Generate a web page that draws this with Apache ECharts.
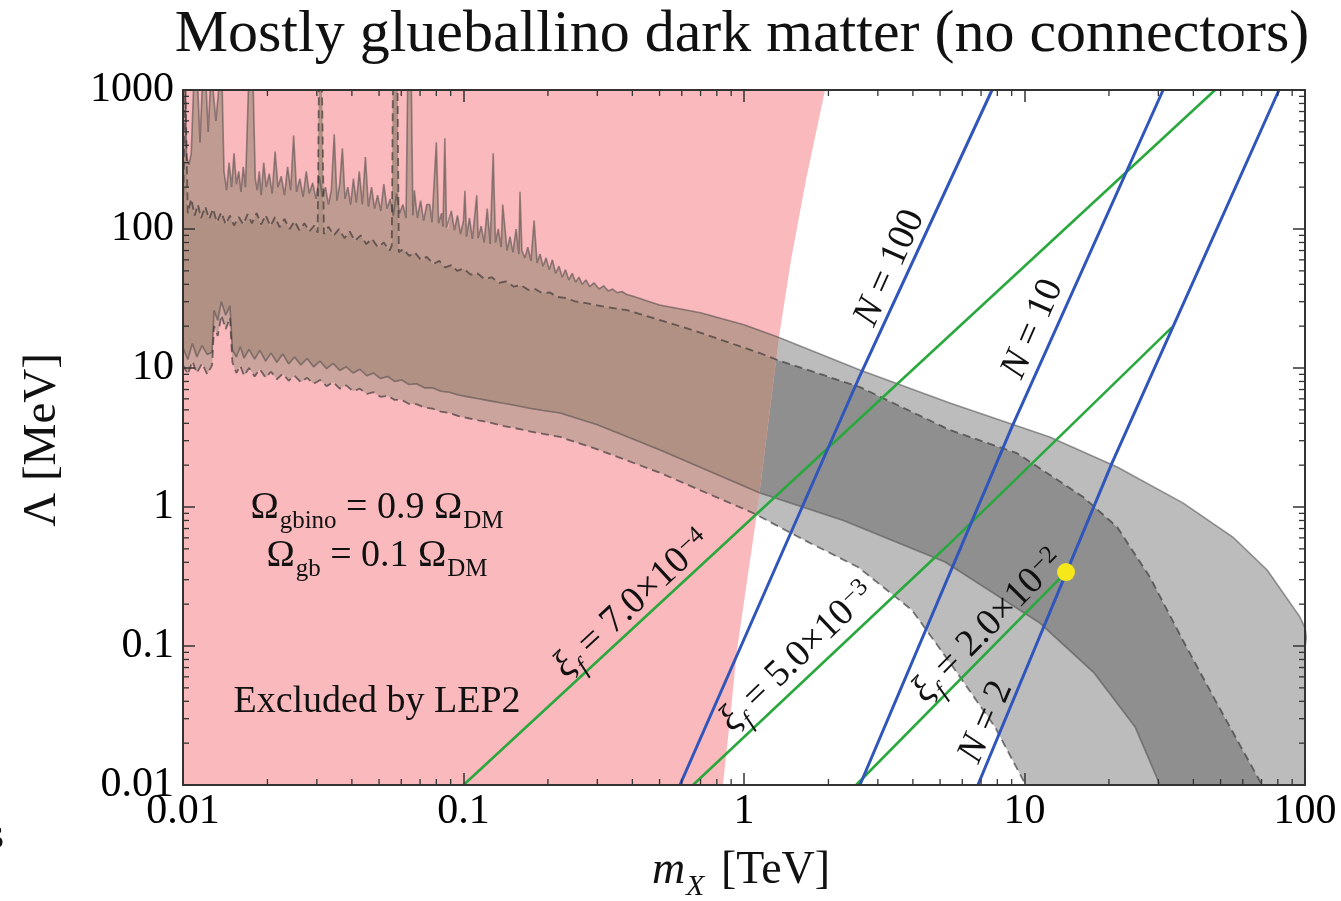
<!DOCTYPE html>
<html>
<head>
<meta charset="utf-8">
<script src="https://cdn.jsdelivr.net/npm/echarts@6/dist/echarts.min.js"></script>
<style>
  html, body { margin: 0; padding: 0; background: #fff; }
  #chart { width: 1341px; height: 901px; }
</style>
</head>
<body>
<div id="chart"></div>
<script>
const SERIF = '"Liberation Serif", "DejaVu Serif", serif';

// Axis ticks (log scales)
const X_TICK_LABELS = ['0.01', '0.1', '1', '10', '100'];
const Y_TICK_LABELS = ['0.01', '0.1', '1', '10', '100', '1000'];

// Edge of the LEP2-excluded region, [m_X (TeV), Λ (MeV)], bottom to top
const LEP2_EDGE = [[0.841, 0.01], [0.891, 0.0294], [0.944, 0.0935], [1.112, 0.906], [1.218, 3.89],
  [1.333, 16.7], [1.471, 59.8], [1.663, 225], [1.945, 1000]];

// Relic-abundance band boundaries, [m_X (TeV), Λ (MeV)]
const BAND_UPPER_SOLID = [
  [0.0100, 1000], [0.0102, 1000], [0.0103, 330], [0.0105, 290], [0.0107, 350], [0.0109, 1000], [0.0113, 1000],
  [0.0115, 420], [0.0117, 1000], [0.0121, 1000], [0.0123, 500], [0.0125, 1000], [0.0128, 1000], [0.0131, 600],
  [0.0134, 1000], [0.0138, 1000], [0.0140, 260], [0.0143, 190], [0.0146, 300], [0.0149, 200], [0.0152, 350],
  [0.0155, 210], [0.0158, 260], [0.0161, 185], [0.0164, 280], [0.0167, 200], [0.0171, 1000], [0.0178, 1000],
  [0.0181, 230], [0.0184, 190], [0.0187, 260], [0.0190, 175], [0.0194, 300], [0.0198, 200],
  [0.0203, 250], [0.0208, 180], [0.0213, 360], [0.0218, 200], [0.0224, 240], [0.0230, 175], [0.0236, 280],
  [0.0242, 190], [0.0248, 470], [0.0254, 185], [0.0261, 230], [0.0268, 170], [0.0275, 260], [0.0282, 180],
  [0.0290, 215], [0.0298, 165], [0.0306, 240], [0.0314, 170], [0.0322, 200], [0.0330, 150], [0.0338, 190],
  [0.0346, 480], [0.0354, 160], [0.0362, 210], [0.0370, 380], [0.0378, 165], [0.0387, 200], [0.0396, 150],
  [0.0405, 230], [0.0415, 155], [0.0425, 260], [0.0436, 150], [0.0447, 330], [0.0458, 145], [0.0470, 200],
  [0.0482, 140], [0.0494, 175], [0.0507, 135], [0.0520, 210], [0.0534, 140], [0.0548, 165], [0.0562, 125],
  [0.0577, 180], [0.0592, 130], [0.0608, 150], [0.0624, 120], [0.0632, 1000], [0.0652, 1000], [0.0660, 125],
  [0.0668, 190], [0.0685, 120], [0.0703, 160], [0.0721, 115], [0.0740, 150], [0.0758, 150], [0.0772, 112],
  [0.0800, 420], [0.0815, 110], [0.0835, 130], [0.0845, 104], [0.0858, 450], [0.0870, 102], [0.0882, 100],
  [0.0905, 135], [0.0928, 98], [0.0952, 125], [0.0976, 92], [0.1000, 115], [0.1012, 188], [0.1025, 88],
  [0.1050, 120], [0.1076, 85], [0.1115, 175], [0.1128, 86], [0.1156, 105], [0.1185, 80], [0.1215, 140],
  [0.1245, 78], [0.1276, 350], [0.1300, 80], [0.1330, 100], [0.1362, 74], [0.1380, 150], [0.1430, 70],
  [0.1465, 88], [0.1500, 68], [0.1540, 100], [0.1575, 66], [0.1590, 185], [0.1615, 70], [0.1655, 62],
  [0.1695, 74], [0.1740, 59], [0.1785, 115], [0.1830, 57], [0.1875, 66], [0.1920, 54], [0.1970, 62],
  [0.2020, 51], [0.2075, 60], [0.2130, 48], [0.2190, 54], [0.2250, 45], [0.2310, 51], [0.2375, 43],
  [0.2440, 48], [0.2510, 41.5], [0.2580, 45], [0.2650, 40], [0.2730, 43], [0.2820, 38.5], [0.2920, 41],
  [0.3040, 37], [0.3160, 39], [0.3280, 35.8], [0.3400, 37], [0.3530, 34.8], [0.3670, 35.5], [0.3820, 33.8],
  [0.4000, 33], [0.50, 28.4], [0.70, 25], [1.00, 20.5], [1.32, 16.7], [2.59, 9.68], [5.42, 5.60], [12.3, 3.19],
  [21.4, 1.94], [36.7, 1.07], [55.3, 0.608], [73.3, 0.352], [95.9, 0.162], [100, 0.135], [108, 0.05], [115, 0.01]
];
const BAND_UPPER_DASHED = [
  [0.0100, 140], [0.0102, 1000], [0.0104, 130], [0.0107, 165], [0.0110, 125], [0.0113, 150], [0.0116, 120],
  [0.0120, 145], [0.0124, 118], [0.0128, 140], [0.0132, 112], [0.0137, 132], [0.0142, 108], [0.0147, 125],
  [0.0152, 106], [0.0158, 122], [0.0164, 108], [0.0170, 128], [0.0176, 110], [0.0183, 130], [0.0190, 108],
  [0.0197, 126], [0.0205, 105], [0.0213, 122], [0.0221, 103], [0.0230, 118], [0.0240, 100], [0.0250, 114],
  [0.0260, 98], [0.0271, 110], [0.0282, 96], [0.0294, 106], [0.0302, 94], [0.0305, 1000], [0.0313, 1000],
  [0.0318, 92], [0.0330, 104], [0.0345, 90], [0.0360, 100], [0.0376, 86], [0.0393, 96], [0.0410, 82],
  [0.0430, 90], [0.0450, 78], [0.0472, 85], [0.0495, 74], [0.0520, 80], [0.0545, 70], [0.0555, 76],
  [0.0560, 1000], [0.0582, 1000], [0.0588, 68], [0.0610, 72], [0.0640, 64], [0.0670, 68], [0.0705, 60],
  [0.0740, 63], [0.0780, 56], [0.0820, 59], [0.0860, 53], [0.0905, 55], [0.0950, 50], [0.1000, 52],
  [0.1060, 47], [0.1120, 48], [0.1190, 43.5], [0.1260, 45], [0.1340, 41], [0.1420, 42], [0.1510, 38.5],
  [0.1600, 39.5], [0.1700, 36.5], [0.1800, 37], [0.1910, 34.5], [0.2030, 35], [0.2150, 32.5], [0.2300, 32],
  [0.2500, 30.2], [0.2800, 29], [0.3200, 27.5], [0.383, 26.1], [0.658, 18.7], [1.14, 12.8], [1.32, 11.4],
  [2.59, 7.29], [5.42, 3.58], [9.40, 2.44], [16.2, 1.18], [21.4, 0.718], [28.0, 0.313], [36.7, 0.110],
  [47.8, 0.041], [58.6, 0.0194], [70.3, 0.01]
];
const BAND_LOWER_SOLID = [
  [0.0100, 14], [0.0104, 11.5], [0.0108, 15], [0.0112, 12], [0.0117, 14.5], [0.0122, 12.5], [0.0127, 13],
  [0.0129, 26], [0.0133, 22], [0.0137, 30], [0.0142, 24], [0.0147, 28], [0.0150, 13.5], [0.0155, 12],
  [0.0160, 14.2], [0.0165, 11.8], [0.0172, 13.6], [0.0180, 11.6], [0.0188, 13.4], [0.0197, 11.2],
  [0.0206, 12.8], [0.0216, 11.0], [0.0227, 12.6], [0.0238, 10.7], [0.0250, 12.0], [0.0263, 10.5],
  [0.0277, 11.7], [0.0292, 10.2], [0.0308, 11.2], [0.0325, 9.9], [0.0343, 10.8], [0.0362, 9.6], [0.0382, 10.2],
  [0.0404, 9.2], [0.0427, 9.8], [0.0452, 8.8], [0.0478, 9.2], [0.0506, 8.4], [0.0536, 8.7], [0.0568, 8.0],
  [0.0602, 8.2], [0.0640, 7.6], [0.0680, 7.7], [0.0725, 7.2], [0.0775, 7.2], [0.0830, 6.8], [0.0890, 6.7],
  [0.0960, 6.4], [0.1040, 6.2], [0.1130, 6.0], [0.1240, 5.8], [0.1370, 5.6], [0.1520, 5.4], [0.1700, 5.15],
  [0.1920, 4.95], [0.221, 4.74], [0.300, 3.9], [0.502, 2.57], [1.14, 1.26], [2.26, 0.80], [5.21, 0.402],
  [11.35, 0.146], [17.7, 0.064], [24.8, 0.0261], [30.4, 0.01]
];
const BAND_LOWER_DASHED = [
  [0.0100, 10.5], [0.0104, 9.0], [0.0108, 11.2], [0.0112, 9.2], [0.0117, 10.8], [0.0122, 9.0], [0.0127, 10.5],
  [0.0129, 20], [0.0133, 17], [0.0137, 24], [0.0142, 19], [0.0147, 23], [0.0150, 11], [0.0155, 9.2],
  [0.0160, 10.4], [0.0165, 8.8], [0.0172, 10.0], [0.0180, 8.7], [0.0188, 9.8], [0.0197, 8.5], [0.0206, 9.4],
  [0.0216, 8.3], [0.0227, 9.1], [0.0238, 8.1], [0.0250, 8.8], [0.0263, 7.9], [0.0277, 8.5], [0.0292, 7.7],
  [0.0308, 8.2], [0.0325, 7.4], [0.0343, 7.9], [0.0362, 7.1], [0.0382, 7.5], [0.0404, 6.8], [0.0427, 7.1],
  [0.0452, 6.5], [0.0478, 6.7], [0.0506, 6.2], [0.0536, 6.3], [0.0568, 5.9], [0.0602, 5.9], [0.0640, 5.5],
  [0.0680, 5.5], [0.0725, 5.2], [0.0775, 5.1], [0.0830, 4.85], [0.0890, 4.75], [0.0960, 4.5], [0.1040, 4.35],
  [0.1130, 4.2], [0.1240, 4.05], [0.1370, 3.85], [0.1520, 3.7], [0.1700, 3.52], [0.1920, 3.36], [0.221, 3.19],
  [0.300, 2.6], [0.502, 1.76], [1.076, 0.906], [1.637, 0.579], [2.547, 0.370], [3.97, 0.1815], [5.56, 0.0706],
  [7.85, 0.0261], [10.1, 0.01]
];

// Constant-N curves
const N100_LINE = [[0.591, 0.01], [2.55, 8.2], [7.66, 1000]];
const N10_LINE = [[2.59, 0.01], [9.02, 3.77], [31.2, 1000]];
const N2_LINE = [[6.82, 0.01], [20.5, 2.07], [80.8, 1000]];

// Constant freeze-out temperature ratio ξ_f
const XI_7E4_LINE = [[0.1, 0.01], [47.8, 1000]];
const XI_5E3_LINE = [[0.658, 0.01], [5.25, 0.515], [33.6, 19.7]];
const XI_2E2_LINE = [[2.51, 0.01], [14.06, 0.34]];

// Benchmark point
const BENCHMARK = [14.06, 0.34];

// Label anchors (data coordinates)
const N_LABEL_POS = [[3.31, 52.4], [10.7, 19.1], [7.29, 0.0284]];
const XI_LABEL_POS = [[0.399, 0.2005], [1.545, 0.0834], [7.41, 0.139]];

// ---- geometry helpers ----
const lg = v => Math.log10(v);
const edgeLog = LEP2_EDGE.map(p => [lg(p[0]), lg(p[1])]);
function edgeX(ly) {
  if (ly <= edgeLog[0][1]) return edgeLog[0][0];
  for (let i = 1; i < edgeLog.length; i++) {
    const a = edgeLog[i - 1], b = edgeLog[i];
    if (ly <= b[1]) return a[0] + (b[0] - a[0]) * (ly - a[1]) / (b[1] - a[1]);
  }
  return edgeLog[edgeLog.length - 1][0];
}

// keep the part of a polygon that lies inside the LEP2-excluded region
function clipToLep(poly) {
  const P = poly.map(p => [lg(p[0]), lg(p[1])]);
  const f = q => q[0] - edgeX(q[1]);
  const out = [];
  for (let i = 0; i < P.length; i++) {
    const a = P[i], b = P[(i + 1) % P.length];
    const fa = f(a), fb = f(b);
    if (fa <= 0) out.push(a);
    if ((fa <= 0) !== (fb <= 0)) {
      const t = fa / (fa - fb);
      out.push([a[0] + t * (b[0] - a[0]), a[1] + t * (b[1] - a[1])]);
    }
  }
  return out.map(q => [Math.pow(10, q[0]), Math.pow(10, q[1])]);
}

const band = (upper, lower) => upper.concat(lower.slice().reverse());
const upperLight = band(BAND_UPPER_SOLID, BAND_UPPER_DASHED);
const overlap = band(BAND_UPPER_DASHED, BAND_LOWER_SOLID);
const lowerLight = band(BAND_LOWER_SOLID, BAND_LOWER_DASHED);
const lepPoly = [[0.01, 0.01]].concat(LEP2_EDGE, [[0.01, 1000]]);

function polygonSeries(polys, color, z) {
  return {
    type: 'custom', coordinateSystem: 'cartesian2d', silent: true, clip: true, z: z,
    data: polys.map((p, i) => [1, 1, i]),
    encode: { x: 0, y: 1 },
    renderItem: (params, api) => ({
      type: 'polygon',
      shape: { points: polys[params.dataIndex].map(p => api.coord(p)) },
      style: { fill: color, stroke: null }
    })
  };
}

function lineSeries(data, color, width, dash, z) {
  return {
    type: 'line', data: data, symbol: 'none', showSymbol: false, silent: true, clip: true, z: z,
    lineStyle: { color: color, width: width, type: dash || 'solid' }
  };
}

// minor ticks of the log axes
const X_MINOR = [], Y_MINOR = [];
for (let k = -2; k < 2; k++) for (let m = 2; m <= 9; m++) X_MINOR.push(+(m * Math.pow(10, k)).toPrecision(3));
for (let k = -2; k < 3; k++) for (let m = 2; m <= 9; m++) Y_MINOR.push(+(m * Math.pow(10, k)).toPrecision(3));
const TICK_COLOR = '#333';

function minorTickSeries(values, isX) {
  return {
    type: 'custom', coordinateSystem: 'cartesian2d', silent: true, clip: false, z: 12,
    data: values.map(v => isX ? [v, 1] : [1, v]),
    encode: { x: 0, y: 1 },
    renderItem: (params, api) => {
      const st = { stroke: TICK_COLOR, lineWidth: 1.3 };
      if (isX) {
        const v = api.value(0);
        const b = api.coord([v, 0.01]), t = api.coord([v, 1000]);
        return { type: 'group', children: [
          { type: 'line', shape: { x1: b[0], y1: b[1], x2: b[0], y2: b[1] - 6 }, style: st },
          { type: 'line', shape: { x1: t[0], y1: t[1], x2: t[0], y2: t[1] + 6 }, style: st }
        ] };
      }
      const v = api.value(1);
      const l = api.coord([0.01, v]), r = api.coord([100, v]);
      return { type: 'group', children: [
        { type: 'line', shape: { x1: l[0], y1: l[1], x2: l[0] + 6, y2: l[1] }, style: st },
        { type: 'line', shape: { x1: r[0], y1: r[1], x2: r[0] - 6, y2: r[1] }, style: st }
      ] };
    }
  };
}

const axisCommon = {
  type: 'log', logBase: 10, z: 10,
  axisLine: { show: true, onZero: false, lineStyle: { color: TICK_COLOR, width: 2 } },
  axisTick: { show: true, inside: true, length: 12, lineStyle: { color: TICK_COLOR, width: 1.5 } },
  minorTick: { show: false }, splitLine: { show: false }, minorSplitLine: { show: false }
};
const labelFor = (labels, offset) => v => labels[Math.round(Math.log10(v)) + offset] || '';

const GRAY_LIGHT = '#bcbcbc', GRAY_DARK = '#8f8f8f';
const BROWN_UPPER = '#bf9b91', BROWN_LOWER = '#cba49d', BROWN_DARK = '#b09184';
const PINK = '#f9b9bd';
const EDGE_SOLID = 'rgba(60,60,60,0.5)';
const EDGE_DASHED = 'rgba(40,40,40,0.6)';
const BLUE = '#3056bb', GREEN = '#2aa83e';

const option = {
  animation: false,
  backgroundColor: '#fff',
  grid: { left: 183, right: 36, top: 90, bottom: 116, containLabel: false, outerBoundsMode: 'none' },
  xAxis: [
    Object.assign({}, axisCommon, { min: 0.01, max: 100, position: 'bottom',
      axisLabel: { show: true, margin: 6, fontFamily: SERIF, fontSize: 42, color: '#000',
        formatter: labelFor(X_TICK_LABELS, 2) } }),
    Object.assign({}, axisCommon, { min: 0.01, max: 100, position: 'top', axisLabel: { show: false } })
  ],
  yAxis: [
    Object.assign({}, axisCommon, { min: 0.01, max: 1000, position: 'left',
      axisLabel: { show: true, margin: 9, fontFamily: SERIF, fontSize: 42, color: '#000',
        formatter: labelFor(Y_TICK_LABELS, 2) } }),
    Object.assign({}, axisCommon, { min: 0.01, max: 1000, position: 'right', axisLabel: { show: false } })
  ],
  series: [
    polygonSeries([upperLight, lowerLight], GRAY_LIGHT, 1),
    polygonSeries([overlap], GRAY_DARK, 1.1),
    polygonSeries([lepPoly], PINK, 1.2),
    polygonSeries([clipToLep(upperLight)], BROWN_UPPER, 1.3),
    polygonSeries([clipToLep(lowerLight)], BROWN_LOWER, 1.3),
    polygonSeries([clipToLep(overlap)], BROWN_DARK, 1.4),
    lineSeries(BAND_UPPER_SOLID, EDGE_SOLID, 1.6, null, 2),
    lineSeries(BAND_UPPER_DASHED, EDGE_DASHED, 1.8, [8, 5], 2),
    lineSeries(BAND_LOWER_SOLID, EDGE_SOLID, 1.6, null, 2),
    lineSeries(BAND_LOWER_DASHED, EDGE_DASHED, 1.8, [8, 5], 2),
    lineSeries(XI_7E4_LINE, GREEN, 2.6, null, 3),
    lineSeries(XI_5E3_LINE, GREEN, 2.6, null, 3),
    lineSeries(XI_2E2_LINE, GREEN, 2.6, null, 3),
    lineSeries(N100_LINE, BLUE, 3, null, 4),
    lineSeries(N10_LINE, BLUE, 3, null, 4),
    lineSeries(N2_LINE, BLUE, 3, null, 4),
    { type: 'scatter', data: [BENCHMARK], symbol: 'circle', symbolSize: 18, silent: true, z: 6,
      itemStyle: { color: '#f6e71a', opacity: 1 } },
    minorTickSeries(X_MINOR, true),
    minorTickSeries(Y_MINOR, false)
  ]
};

const chart = echarts.init(document.getElementById('chart'), null, { renderer: 'canvas' });
chart.setOption(option);

// ---- text annotations ----
function rich(size, subGap) {
  const s = Math.round(size * 0.66);
  return {
    m: { fontSize: size, fontFamily: SERIF, verticalAlign: 'top', lineHeight: size },
    it: { fontSize: size, fontFamily: SERIF, fontStyle: 'italic', verticalAlign: 'top', lineHeight: size },
    sub: { fontSize: s, fontFamily: SERIF, fontStyle: 'italic', verticalAlign: 'top', lineHeight: s,
      padding: [Math.round(size * 0.53), subGap || 0, 0, 1] },
    subU: { fontSize: s, fontFamily: SERIF, verticalAlign: 'top', lineHeight: s,
      padding: [Math.round(size * 0.53), 0, 0, 1] },
    sup: { fontSize: s, fontFamily: SERIF, verticalAlign: 'top', lineHeight: s, padding: [0, 0, 0, 1] }
  };
}
const toPx = p => chart.convertToPixel({ gridIndex: 0 }, p);
const angleOf = line => {
  const a = toPx(line[0]), b = toPx(line[line.length - 1]);
  return Math.atan2(a[1] - b[1], b[0] - a[0]);
};
function text(str, x, y, size, extra, align, subGap) {
  return Object.assign({
    type: 'text', x: x, y: y, z: 50, silent: true,
    style: { text: str, fill: '#111', fontSize: size, fontFamily: SERIF,
      align: align || 'center', verticalAlign: 'middle', rich: rich(size, subGap) }
  }, extra || {});
}
function lineLabel(str, pos, line) {
  const p = toPx(pos);
  return text(str, p[0], p[1], 38, { rotation: angleOf(line) });
}

chart.setOption({
  graphic: [
    text('{m|Mostly glueballino dark matter (no connectors)}', 742, 35, 60),
    text('{m|Λ [MeV]}', 43, 440, 47, { rotation: Math.PI / 2 }),
    text('{it|m}{sub|X}{m| [TeV]}', 741, 871, 46, null, 'center', 5),
    text('{m|s}', -13, 836, 44, null, 'left'),
    text('{m|Ω}{subU|gbino}{m| = 0.9 Ω}{subU|DM}', 377, 508, 38),
    text('{m|Ω}{subU|gb}{m| = 0.1 Ω}{subU|DM}', 377, 556, 38),
    text('{m|Excluded by LEP2}', 377, 702, 38),
    lineLabel('{it|N}{m| = 100}', N_LABEL_POS[0], N100_LINE),
    lineLabel('{it|N}{m| = 10}', N_LABEL_POS[1], N10_LINE),
    lineLabel('{it|N}{m| = 2}', N_LABEL_POS[2], N2_LINE),
    lineLabel('{it|ξ}{sub|f}{m| = 7.0×10}{sup|−4}', XI_LABEL_POS[0], XI_7E4_LINE),
    lineLabel('{it|ξ}{sub|f}{m| = 5.0×10}{sup|−3}', XI_LABEL_POS[1], XI_5E3_LINE),
    lineLabel('{it|ξ}{sub|f}{m| = 2.0×10}{sup|−2}', XI_LABEL_POS[2], XI_2E2_LINE)
  ]
});
</script>
</body>
</html>
